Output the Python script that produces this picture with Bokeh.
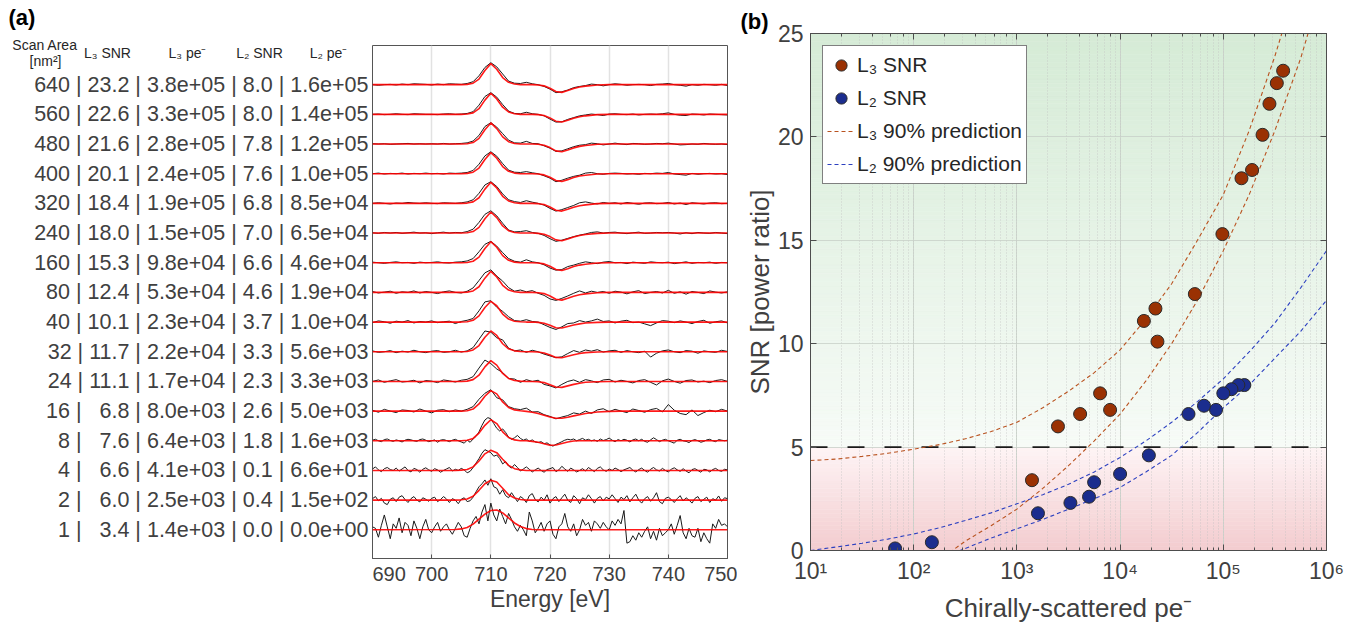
from bokeh.plotting import figure
from bokeh.layouts import row
from bokeh.models import (Range1d, LogAxis, LinearAxis, LogTicker, FixedTicker, Legend, LegendItem,
                          Span, CustomJSTickFormatter, ColumnDataSource)
from bokeh.core.properties import value
from bokeh.embed import file_html
from bokeh.resources import INLINE

FONT = "Liberation Sans"
TXT = "#404040"

# ---------------- table / scatter data ----------------
scan_area = [640, 560, 480, 400, 320, 240, 160, 80, 40, 32, 24, 16, 8, 4, 2, 1]
l3_snr = [23.2, 22.6, 21.6, 20.1, 18.4, 18.0, 15.3, 12.4, 10.1, 11.7, 11.1, 6.8, 7.6, 6.6, 6.0, 3.4]
l3_pe = [3.8e5, 3.3e5, 2.8e5, 2.4e5, 1.9e5, 1.5e5, 9.8e4, 5.3e4, 2.3e4, 2.2e4, 1.7e4, 8.0e3, 6.4e3, 4.1e3, 2.5e3, 1.4e3]
l2_snr = [8.0, 8.0, 7.8, 7.6, 6.8, 7.0, 6.6, 4.6, 3.7, 3.3, 2.3, 2.6, 1.8, 0.1, 0.4, 0.0]
l2_pe = [1.6e5, 1.4e5, 1.2e5, 1.0e5, 8.5e4, 6.5e4, 4.6e4, 1.9e4, 1.0e4, 5.6e3, 3.3e3, 5.0e3, 1.6e3, 6.6e1, 1.5e2, 0.0]

# 90% prediction bands (every quarter decade 10^1 .. 10^6)
pred_x = [1.0e1, 1.78e1, 3.16e1, 5.62e1, 1.0e2, 1.78e2, 3.16e2, 5.62e2, 1.0e3, 1.78e3, 3.16e3,
          5.62e3, 1.0e4, 1.78e4, 3.16e4, 5.62e4, 1.0e5, 1.78e5, 3.16e5, 5.62e5, 1.0e6]
l3_pred_hi = [4.35, 4.42, 4.55, 4.7, 4.9, 5.12, 5.4, 5.75, 6.2, 6.9, 7.7, 8.6, 9.7, 11.2, 12.9, 15.0, 17.2, 20.3, 23.9, 28.0, 32.5]
l3_pred_lo = [-4.0, -3.2, -2.5, -1.8, -1.1, -0.45, 0.45, 1.2, 2.0, 3.0, 4.1, 5.3, 6.6, 8.2, 10.0, 12.1, 14.5, 17.2, 20.3, 23.8, 28.0]
l2_pred_hi = [0.0, 0.17, 0.35, 0.55, 0.8, 1.1, 1.45, 1.82, 2.26, 2.7, 3.2, 3.8, 4.5, 5.3, 6.2, 7.2, 8.3, 9.6, 11.0, 12.7, 14.5]
l2_pred_lo = [-3.0, -2.3, -1.7, -1.2, -0.8, -0.4, 0.1, 0.6, 1.05, 1.5, 2.0, 2.5, 3.05, 3.8, 4.6, 5.7, 6.9, 8.0, 9.3, 10.6, 12.1]
snr_threshold = 5

# ---------------- spectra data (panel a) ----------------
energy_1ev = [690 + i for i in range(61)]
energy_half = [690 + 0.5 * i for i in range(121)]
fit_energy = [690, 704, 705, 706, 707, 708, 709, 710, 711, 712, 713, 714, 715, 716, 717, 718, 719, 720,
              721, 722, 723, 724, 725, 726, 728, 730, 732, 750]

fit_high = [0, 0, 0, 0.01, 0.05, 0.19, 0.48, 0.71, 0.52, 0.24, 0.08, 0.02, 0, 0, 0, -0.01, -0.04, -0.12,
            -0.23, -0.26, -0.20, -0.13, -0.08, -0.05, -0.01, 0, 0, 0]
fit_mid = [0, 0, 0, 0.01, 0.06, 0.21, 0.49, 0.70, 0.55, 0.27, 0.10, 0.03, 0.01, 0, 0, -0.01, -0.04, -0.11,
           -0.19, -0.20, -0.15, -0.10, -0.06, -0.03, -0.01, 0, 0, 0]
fit_16 = [0, 0, 0, 0.01, 0.07, 0.24, 0.50, 0.69, 0.58, 0.31, 0.12, 0.04, 0.01, -0.01, -0.04, -0.08, -0.14, -0.20,
          -0.24, -0.24, -0.21, -0.16, -0.12, -0.08, -0.03, -0.01, 0, 0]
fit_8 = [0, 0, 0, 0.02, 0.08, 0.26, 0.52, 0.71, 0.58, 0.30, 0.11, 0.03, 0, 0, -0.02, -0.05, -0.10, -0.15,
         -0.14, -0.09, -0.04, -0.01, 0, 0, 0, 0, 0, 0]
fit_4 = [0, 0, 0.01, 0.03, 0.12, 0.32, 0.56, 0.68, 0.60, 0.38, 0.17, 0.06, 0.02, 0, 0, 0, 0, 0,
         0, 0, 0, 0, 0, 0, 0, 0, 0, 0]
fit_2 = [0, 0, 0.01, 0.04, 0.13, 0.33, 0.55, 0.67, 0.61, 0.40, 0.18, 0.07, 0.02, 0, 0, 0, 0, 0,
         0, 0, 0, 0, 0, 0, 0, 0, 0, 0]
fit_1 = [0, 0.01, 0.03, 0.08, 0.19, 0.36, 0.53, 0.65, 0.67, 0.57, 0.40, 0.23, 0.11, 0.04, 0.01, 0, 0, 0,
         0, 0, 0, 0, 0, 0, 0, 0, 0, 0]

spec_640 = [0.00, -0.02, 0.00, 0.01, -0.01, 0.02, 0.00, 0.03, 0.02, 0.01,
            -0.01, 0.02, 0.00, 0.03, 0.02, 0.01, 0.04, 0.10, 0.30, 0.58,
            0.74, 0.60, 0.36, 0.12, 0.05, 0.04, 0.08, 0.03, 0.00, -0.06,
            -0.15, -0.27, -0.24, -0.18, -0.10, -0.06, -0.03, 0.02, 0.00, -0.04,
            0.00, 0.03, 0.01, -0.02, 0.00, 0.01, 0.00, -0.03, 0.01, 0.02,
            0.04, 0.00, -0.02, -0.05, 0.00, -0.02, 0.01, 0.00, -0.02, 0.01,
            -0.03]
spec_560 = [0.00, 0.01, -0.01, 0.00, 0.02, 0.00, -0.01, 0.02, 0.01, 0.00,
            0.00, -0.01, 0.01, 0.02, 0.00, 0.01, 0.03, 0.09, 0.31, 0.60,
            0.73, 0.58, 0.33, 0.11, 0.03, 0.02, 0.07, 0.02, 0.00, -0.05,
            -0.16, -0.26, -0.25, -0.17, -0.11, -0.05, -0.02, 0.01, -0.01, -0.04,
            0.01, 0.02, 0.00, -0.01, 0.01, -0.02, 0.00, 0.01, 0.00, 0.02,
            0.05, 0.00, -0.03, -0.04, 0.01, 0.00, -0.02, 0.01, 0.00, -0.01,
            -0.02]
spec_480 = [0.01, 0.00, 0.01, -0.01, 0.00, 0.01, 0.02, 0.00, 0.01, 0.00,
            0.01, 0.00, 0.02, 0.00, 0.01, 0.02, 0.04, 0.10, 0.29, 0.59,
            0.72, 0.57, 0.35, 0.13, 0.04, 0.03, 0.09, 0.02, 0.01, -0.06,
            -0.14, -0.25, -0.23, -0.16, -0.09, -0.04, -0.02, 0.03, 0.01, -0.03,
            0.00, 0.03, 0.00, -0.02, 0.02, 0.01, -0.01, 0.00, 0.02, 0.01,
            0.03, 0.00, -0.03, -0.02, 0.00, -0.01, 0.02, 0.00, -0.01, 0.00,
            -0.02]
spec_400 = [0.00, 0.02, -0.01, 0.01, 0.00, 0.02, -0.01, 0.01, 0.00, 0.02,
            0.00, 0.01, -0.01, 0.02, 0.01, 0.02, 0.04, 0.11, 0.32, 0.60,
            0.74, 0.59, 0.34, 0.12, 0.05, 0.04, 0.07, 0.03, 0.00, -0.07,
            -0.15, -0.27, -0.22, -0.15, -0.09, -0.05, 0.02, 0.04, 0.00, -0.02,
            0.01, 0.02, 0.01, -0.01, 0.00, -0.02, 0.01, 0.00, 0.02, 0.01,
            0.04, -0.01, -0.03, -0.05, 0.01, -0.02, 0.00, 0.01, -0.01, 0.00,
            -0.03]
spec_320 = [0.00, 0.02, 0.00, -0.02, 0.01, 0.00, 0.03, 0.01, 0.00, 0.02,
            0.00, -0.01, 0.02, 0.01, 0.00, 0.02, 0.05, 0.12, 0.34, 0.62,
            0.73, 0.57, 0.32, 0.12, 0.06, 0.03, 0.09, 0.04, 0.00, -0.06,
            -0.17, -0.26, -0.21, -0.14, -0.07, 0.02, 0.05, 0.01, -0.02, 0.03,
            0.00, 0.02, -0.02, 0.03, 0.00, -0.03, 0.01, 0.02, -0.01, 0.00,
            0.03, -0.02, 0.01, -0.04, 0.02, 0.00, -0.02, 0.01, 0.02, -0.01,
            0.00]
spec_240 = [0.01, -0.01, 0.02, 0.00, 0.02, -0.01, 0.01, 0.03, 0.00, 0.01,
            -0.02, 0.01, 0.03, 0.00, 0.02, 0.01, 0.05, 0.13, 0.36, 0.63,
            0.75, 0.58, 0.33, 0.10, 0.04, 0.05, 0.08, 0.02, -0.01, -0.08,
            -0.19, -0.28, -0.24, -0.18, -0.12, -0.07, -0.03, 0.02, 0.04, 0.00,
            0.02, 0.03, 0.00, -0.02, 0.01, 0.03, -0.01, 0.00, 0.02, 0.01,
            0.02, 0.00, -0.03, 0.01, -0.02, 0.02, 0.00, -0.01, 0.02, 0.00,
            -0.02]
spec_160 = [0.02, 0.00, -0.02, 0.01, 0.03, 0.00, 0.01, -0.02, 0.02, 0.00,
            0.01, 0.03, 0.00, -0.01, 0.02, 0.03, 0.06, 0.14, 0.37, 0.62,
            0.72, 0.56, 0.34, 0.14, 0.05, 0.02, 0.10, 0.03, 0.00, -0.07,
            -0.18, -0.25, -0.23, -0.13, -0.08, -0.02, 0.03, 0.00, -0.03, 0.02,
            0.04, 0.00, 0.01, -0.03, 0.02, 0.00, -0.02, 0.03, 0.01, 0.00,
            0.02, -0.03, 0.00, 0.03, -0.02, 0.01, 0.00, 0.02, -0.02, 0.01,
            0.00]
spec_80 = [0.03, -0.02, 0.01, 0.04, -0.03, 0.02, 0.00, 0.05, -0.02, 0.03,
           0.00, -0.04, 0.02, 0.05, 0.00, -0.02, 0.04, 0.15, 0.40, 0.66,
           0.76, 0.55, 0.38, 0.16, 0.04, 0.08, 0.02, 0.06, -0.03, -0.10,
           -0.22, -0.27, -0.20, -0.12, -0.03, 0.05, -0.02, 0.04, 0.00, 0.03,
           -0.03, 0.04, 0.01, -0.05, 0.02, 0.06, -0.04, 0.00, 0.03, -0.02,
           0.07, -0.03, 0.02, -0.06, 0.03, 0.00, -0.04, 0.05, 0.01, -0.02,
           0.02]
spec_40 = [-0.02, 0.04, 0.01, -0.04, 0.03, 0.00, 0.05, -0.03, 0.02, 0.00,
           0.04, -0.02, 0.01, 0.03, -0.05, 0.02, 0.06, 0.12, 0.38, 0.68,
           0.72, 0.50, 0.36, 0.18, 0.05, 0.03, 0.08, 0.02, 0.00, -0.09,
           -0.18, -0.25, -0.16, -0.05, -0.03, 0.05, 0.00, 0.04, 0.10, 0.02,
           0.04, -0.03, 0.03, 0.06, -0.02, 0.00, -0.06, -0.12, -0.03, 0.05,
           0.03, -0.02, 0.04, 0.00, -0.05, 0.02, 0.06, -0.04, 0.01, 0.04,
           -0.03]
spec_32 = [0.03, -0.02, 0.00, 0.04, -0.03, 0.02, -0.01, 0.05, 0.00, -0.03,
           0.02, 0.04, -0.02, 0.00, 0.05, -0.01, 0.03, 0.14, 0.42, 0.70,
           0.66, 0.47, 0.40, 0.12, 0.03, 0.06, -0.02, 0.05, 0.00, -0.08,
           -0.14, -0.20, -0.17, -0.06, 0.04, -0.02, 0.06, 0.02, 0.07, -0.01,
           0.03, 0.05, -0.02, 0.04, 0.00, -0.03, 0.02, -0.18, -0.05, 0.03,
           0.06, 0.00, -0.03, 0.04, 0.02, -0.05, 0.03, 0.00, -0.02, 0.05,
           0.01]
spec_24 = [0.00, 0.05, -0.03, 0.02, 0.06, -0.02, 0.00, 0.04, -0.05, 0.03,
           0.01, -0.04, 0.05, 0.02, -0.02, 0.04, 0.07, 0.16, 0.45, 0.72,
           0.60, 0.42, 0.30, 0.10, 0.08, -0.03, 0.06, 0.00, 0.04, -0.10,
           -0.15, -0.22, -0.10, 0.00, 0.05, -0.03, 0.06, 0.02, -0.04, 0.05,
           0.07, -0.02, 0.04, 0.00, -0.05, 0.03, 0.06, -0.03, -0.12, 0.02,
           0.08, 0.00, -0.06, 0.03, 0.05, -0.02, 0.01, -0.04, 0.03, 0.06,
           0.00]
spec_16 = [0.03, -0.04, 0.06, 0.00, -0.05, 0.04, 0.02, -0.03, 0.07, 0.00,
           -0.06, 0.03, 0.05, -0.02, 0.04, 0.00, 0.06, 0.15, 0.40, 0.60,
           0.72, 0.45, 0.38, 0.15, 0.08, 0.05, 0.10, -0.03, -0.02, -0.12,
           -0.18, -0.26, -0.20, -0.15, -0.06, -0.10, 0.00, -0.08, 0.04, 0.08,
           -0.02, 0.06, 0.00, -0.05, 0.07, 0.02, -0.04, 0.05, 0.09, -0.03,
           0.22, 0.03, -0.08, -0.12, 0.04, -0.15, -0.05, 0.03, -0.02, 0.06,
           0.00]
spec_8 = [0.02, 0.05, 0.00, -0.03, 0.04, 0.06, 0.01, -0.02, 0.03, 0.00,
          -0.04, 0.02, 0.05, 0.03, 0.00, -0.02, 0.04, 0.06, 0.02, -0.03,
          0.00, 0.03, -0.05, 0.02, 0.04, 0.01, -0.03, 0.02, 0.05, 0.00,
          -0.04, -0.08, 0.02, -0.05, 0.06, 0.15, 0.30, 0.52, 0.70, 0.78,
          0.74, 0.58, 0.42, 0.33, 0.40, 0.28, 0.12, 0.05, 0.10, 0.18,
          0.08, 0.02, 0.06, -0.02, 0.03, -0.04, -0.06, -0.03, -0.10, -0.07,
          -0.14, -0.18, -0.12, -0.08, -0.03, 0.02, 0.05, 0.03, 0.06, 0.00,
          0.04, 0.08, 0.02, 0.05, 0.00, 0.03, -0.02, 0.06, 0.01, 0.04,
          0.09, 0.02, -0.03, 0.04, 0.00, 0.05, 0.02, -0.04, 0.03, 0.06,
          0.00, 0.05, -0.02, -0.05, 0.03, 0.10, 0.04, -0.03, 0.02, 0.05,
          0.00, -0.04, -0.08, 0.02, 0.05, 0.00, -0.02, -0.06, 0.01, 0.04,
          0.00, -0.05, -0.02, 0.03, 0.05, 0.00, -0.03, 0.04, 0.02, 0.00,
          0.02]
spec_4 = [0.05, 0.12, 0.02, -0.04, 0.06, 0.10, 0.03, 0.00, 0.08, -0.02,
          0.05, 0.12, 0.00, -0.05, 0.07, 0.03, -0.06, 0.04, 0.09, 0.02,
          -0.03, 0.06, 0.02, -0.06, 0.00, 0.05, 0.10, -0.02, 0.04, 0.00,
          0.07, 0.02, -0.08, -0.03, 0.10, 0.25, 0.40, 0.58, 0.70, 0.65,
          0.60, 0.48, 0.52, 0.40, 0.22, 0.30, 0.15, 0.08, 0.20, 0.10,
          -0.02, 0.05, 0.12, 0.04, -0.05, 0.02, 0.08, 0.00, -0.06, 0.03,
          0.06, 0.10, -0.04, 0.02, 0.14, 0.05, -0.03, 0.08, 0.02, -0.05,
          0.00, 0.06, -0.02, 0.10, 0.03, -0.04, 0.07, 0.12, 0.02, -0.03,
          0.05, 0.00, 0.08, 0.03, -0.04, 0.02, 0.06, 0.10, 0.01, -0.05,
          0.03, 0.08, 0.00, -0.06, 0.04, 0.10, 0.02, -0.02, 0.07, 0.00,
          -0.05, 0.04, 0.09, 0.02, -0.03, 0.06, -0.02, -0.08, 0.03, 0.06,
          0.00, -0.06, 0.04, 0.02, -0.05, 0.03, 0.07, 0.00, -0.03, 0.04,
          0.02]
spec_2 = [0.05, 0.12, -0.02, 0.06, -0.10, -0.15, 0.03, 0.08, -0.05, 0.10,
          0.15, 0.02, -0.08, 0.05, 0.12, 0.00, -0.06, 0.08, 0.03, -0.04,
          0.06, 0.10, -0.05, 0.02, 0.12, 0.04, -0.08, 0.05, 0.00, -0.12,
          0.03, 0.08, -0.05, -0.02, 0.10, 0.28, 0.45, 0.55, 0.68, 0.50,
          0.72, 0.45, 0.40, 0.20, 0.35, 0.15, 0.08, 0.25, 0.10, -0.05,
          0.12, 0.05, -0.08, 0.15, 0.22, 0.02, -0.06, 0.10, 0.00, 0.18,
          -0.10, 0.05, 0.12, -0.05, 0.08, 0.20, 0.00, -0.08, 0.15, 0.05,
          -0.12, 0.08, 0.02, 0.18, 0.05, -0.10, 0.06, 0.12, -0.03, 0.10,
          0.04, 0.18, 0.05, -0.08, 0.10, 0.02, 0.15, -0.06, 0.08, 0.20,
          0.00, -0.10, 0.05, 0.12, -0.04, 0.08, 0.25, -0.05, -0.12, 0.06,
          0.10, 0.02, -0.08, 0.05, 0.15, -0.03, 0.08, 0.00, -0.10, 0.06,
          0.12, -0.05, 0.03, 0.10, -0.08, 0.05, 0.00, 0.14, -0.04, 0.08,
          0.05]
spec_1 = [0.10, 0.05, -0.25, 0.15, 0.50, 0.10, -0.30, 0.20, 0.05, 0.40,
          -0.10, 0.25, 0.15, -0.20, 0.30, 0.05, -0.30, 0.10, 0.35, 0.00,
          -0.10, 0.10, 0.25, -0.05, 0.10, 0.20, 0.00, -0.15, 0.05, 0.25,
          0.10, -0.20, -0.25, 0.05, 0.30, 0.45, 0.20, 0.60, 0.85, 0.30,
          0.90, 0.50, 0.30, 0.70, 0.45, 0.20, 0.55, 0.35, 0.10, -0.05,
          0.15, 0.00, -0.20, 0.60, 0.30, -0.10, 0.05, 0.25, -0.05, 0.20,
          0.30, -0.15, -0.30, 0.10, 0.20, 0.55, 0.10, -0.05, 0.20, -0.20,
          0.00, 0.35, 0.15, 0.25, -0.05, 0.30, 0.20, 0.05, 0.25, 0.10,
          0.00, 0.30, 0.15, 0.35, 0.20, 0.65, -0.45, -0.40, -0.20, -0.35,
          -0.10, -0.25, -0.05, 0.10, -0.30, -0.05, -0.35, 0.05, -0.20, -0.10,
          0.00, 0.20, -0.15, 0.15, 0.48, -0.10, -0.30, 0.05, -0.20, -0.25,
          0.05, -0.40, -0.10, -0.30, -0.45, 0.20, 0.05, 0.35, 0.15, 0.20,
          0.10]

spectra = [spec_640, spec_560, spec_480, spec_400, spec_320, spec_240, spec_160, spec_80,
           spec_40, spec_32, spec_24, spec_16, spec_8, spec_4, spec_2, spec_1]
spectra_energy = [energy_1ev] * 12 + [energy_half] * 4
fits = [fit_high] * 8 + [fit_mid] * 3 + [fit_16, fit_8, fit_4, fit_2, fit_1]

# ---------------- layout constants (page has no margin) ----------------
H = 630
A_TOP, A_BOT = 45, 558          # panel (a) frame, page px
B_TOP, B_BOT = 33, 550          # panel (b) frame, page px
Y0, Y1 = -0.967, 16.32          # spectra y-range (one unit per trace)
PX_PER_UNIT = (A_BOT - A_TOP) / (Y1 - Y0)
NBSP = "\u00a0"


def no_align(p):
    try:
        p.frame_align = False
    except Exception:
        pass


# ---------------- table figure (left of panel a) ----------------
pt = figure(width=372, height=H, x_range=Range1d(0, 372),
            y_range=Range1d(Y0 - (H - A_BOT) / PX_PER_UNIT, Y1 + A_TOP / PX_PER_UNIT),
            x_axis_type=None, y_axis_type=None, toolbar_location=None, output_backend="svg",
            min_border=0, outline_line_color=None, title=None)
no_align(pt)
pt.grid.visible = False

n = len(scan_area)
offsets = [n - 1 - i for i in range(n)]
row_text = []
for a, s3, e3, s2, e2 in zip(scan_area, l3_snr, l3_pe, l2_snr, l2_pe):
    s3txt = f"{s3:.1f}" if s3 >= 10 else NBSP * 2 + f"{s3:.1f}"
    row_text.append(f"{a} | {s3txt} | {e3:.1e} | {s2:.1f} | {e2:.1e}")
pt.text(x=[368] * n, y=offsets, text=row_text, text_align="right", text_baseline="middle",
        text_font=value(FONT), text_font_size="21.5px", text_color=TXT)

pt.text(x=[44.5], y=[Y1 + 1 / PX_PER_UNIT], text=["Scan Area"], text_align="center", text_baseline="middle",
        text_font=value(FONT), text_font_size="14px", text_color="#262626")
pt.text(x=[45], y=[Y1 - 15 / PX_PER_UNIT], text=["[nm²]"], text_align="center", text_baseline="middle",
        text_font=value(FONT), text_font_size="14px", text_color="#262626")
pt.text(x=[107, 187, 259, 328], y=[Y1 - 7 / PX_PER_UNIT] * 4,
        text=["L₃ SNR", "L₃ pe⁻", "L₂ SNR", "L₂ pe⁻"], text_align="center", text_baseline="middle",
        text_font=value(FONT), text_font_size="14px", text_color="#262626")
pt.text(x=[8], y=[Y1 + 28 / PX_PER_UNIT], text=["(a)"], text_align="left", text_baseline="middle",
        text_font=value(FONT), text_font_size="22px", text_font_style="bold", text_color="black")

# ---------------- spectra figure (panel a) ----------------
pa = figure(width=365, height=H, x_range=Range1d(690, 750), y_range=Range1d(Y0, Y1),
            y_axis_type=None, toolbar_location=None, output_backend="svg", title=None,
            min_border_left=0, min_border_right=10, min_border_top=A_TOP, min_border_bottom=H - A_BOT,
            outline_line_color="#555555", outline_line_width=1)
no_align(pa)
pa.xaxis.ticker = FixedTicker(ticks=[690, 700, 710, 720, 730, 740, 750])
pa.xgrid.ticker = FixedTicker(ticks=[700, 710, 720, 730, 740])
pa.xgrid.grid_line_color = "#e2e2e2"
pa.xgrid.grid_line_width = 1.5
pa.xaxis.axis_label = "Energy [eV]"
pa.xaxis.axis_label_text_font = FONT
pa.xaxis.axis_label_text_font_size = "23px"
pa.xaxis.axis_label_text_font_style = "normal"
pa.xaxis.axis_label_text_color = TXT
pa.xaxis.axis_label_standoff = 2
pa.xaxis.major_label_text_font = FONT
pa.xaxis.major_label_text_font_size = "20px"
pa.xaxis.major_label_text_color = TXT
pa.xaxis.major_label_standoff = 8
pa.xaxis.major_tick_out = 0
pa.xaxis.major_tick_in = 4
pa.xaxis.minor_tick_line_color = None
pa.xaxis.axis_line_color = "#555555"
pa.xaxis.major_tick_line_color = "#555555"

for off, e, spec, fit in zip(offsets, spectra_energy, spectra, fits):
    pa.line(e, [v + off for v in spec], line_color="#1a1a1a", line_width=1.0)
    pa.line(fit_energy, [v + off for v in fit], line_color="#ff0000", line_width=1.6, line_alpha=0.9)

# ---------------- scatter figure (panel b) ----------------
pb = figure(width=609, height=H, x_axis_type="log", x_range=Range1d(10, 1e6), y_range=Range1d(0, 25),
            toolbar_location=None, output_backend="svg", title="(b)",
            min_border_left=73, min_border_right=20, min_border_top=B_TOP, min_border_bottom=H - B_BOT,
            outline_line_color="#4d4d4d", outline_line_width=1)
no_align(pb)
pb.title.align = "left"
pb.title.offset = -70
pb.title.standoff = 0
pb.title.text_font = FONT
pb.title.text_font_size = "22px"
pb.title.text_font_style = "bold"
pb.title.text_color = "black"

# background gradient: red below threshold, green above
bands_b, bands_t, bands_c = [], [], []
steps = 125
for i in range(steps):
    b = 25 * i / steps
    t = 25 * (i + 1) / steps
    m = 0.5 * (b + t)
    if m < snr_threshold:
        f = m / snr_threshold
        c0, c1 = (243, 204, 207), (254, 244, 245)
    else:
        f = (m - snr_threshold) / (25 - snr_threshold)
        c0, c1 = (247, 251, 247), (213, 235, 214)
    col = tuple(int(round(c0[k] + (c1[k] - c0[k]) * f)) for k in range(3))
    bands_b.append(b)
    bands_t.append(t)
    bands_c.append("#%02x%02x%02x" % col)
bg = ColumnDataSource(dict(b=bands_b, t=bands_t, c=bands_c))
pb.quad(left=10, right=1e6, bottom="b", top="t", fill_color="c", line_color="c", line_width=0.6,
        source=bg, level="image")

pb.xgrid.grid_line_color = "#c8cfc8"
pb.xgrid.grid_line_alpha = 0.8
pb.xgrid.minor_grid_line_color = "#c0c0c0"
pb.xgrid.minor_grid_line_alpha = 0.7
pb.xgrid.minor_grid_line_dash = "1 2"
pb.ygrid.grid_line_color = "#c8cfc8"
pb.ygrid.grid_line_alpha = 0.8
pb.yaxis.ticker = FixedTicker(ticks=[0, 5, 10, 15, 20, 25])
pb.ygrid.ticker = FixedTicker(ticks=[5, 10, 15, 20])

pb.xaxis.formatter = CustomJSTickFormatter(code="""
const sup = {'0':'⁰','1':'¹','2':'²','3':'³','4':'⁴','5':'⁵','6':'⁶','7':'⁷','8':'⁸','9':'⁹','-':'⁻'};
const e = Math.round(Math.log10(tick));
return '10' + String(e).split('').map(c => sup[c]).join('');
""")

for ax in (pb.xaxis[0], pb.yaxis[0]):
    ax.major_label_text_font = FONT
    ax.major_label_text_font_size = "23px"
    ax.major_label_text_color = TXT
    ax.axis_label_text_font = FONT
    ax.axis_label_text_font_size = "26px"
    ax.axis_label_text_font_style = "normal"
    ax.axis_label_text_color = TXT
    ax.major_tick_out = 0
    ax.major_tick_in = 6
    ax.minor_tick_out = 0
    ax.minor_tick_in = 3
    ax.axis_line_color = "#4d4d4d"
    ax.major_tick_line_color = "#4d4d4d"
    ax.minor_tick_line_color = "#4d4d4d"
pb.yaxis.minor_tick_line_color = None
pb.xaxis.axis_label = "Chirally-scattered pe⁻"
pb.yaxis.axis_label = "SNR [power ratio]"
pb.xaxis.major_label_standoff = 7
pb.xaxis.axis_label_standoff = 6
pb.yaxis.major_label_standoff = 7
pb.yaxis.axis_label_standoff = 0

top_ax = LogAxis(ticker=LogTicker(), formatter=CustomJSTickFormatter(code="return '';"),
                 major_label_text_font_size="1px", major_label_standoff=0,
                 major_tick_out=0, major_tick_in=6, minor_tick_out=0, minor_tick_in=3,
                 axis_line_color="#4d4d4d", major_tick_line_color="#4d4d4d", minor_tick_line_color="#4d4d4d")
pb.add_layout(top_ax, "above")
right_ax = LinearAxis(ticker=FixedTicker(ticks=[0, 5, 10, 15, 20, 25]), formatter=CustomJSTickFormatter(code="return '';"),
                      major_label_text_font_size="1px",
                      major_label_standoff=0, major_tick_out=0, major_tick_in=6, minor_tick_line_color=None,
                      axis_line_color="#4d4d4d", major_tick_line_color="#4d4d4d")
pb.add_layout(right_ax, "right")

pb.add_layout(Span(location=snr_threshold, dimension="width", line_color="#1a1a1a", line_width=1.6,
                   line_dash="17 20", level="underlay"))

C3, C2 = "#9a3103", "#1b2d8e"
LC3, LC2 = "#b9521f", "#2c40c0"
r_l3hi = pb.line(pred_x, l3_pred_hi, line_color=LC3, line_width=1.1, line_dash="4 3")
pb.line(pred_x, l3_pred_lo, line_color=LC3, line_width=1.1, line_dash="4 3")
r_l2hi = pb.line(pred_x, l2_pred_hi, line_color=LC2, line_width=1.1, line_dash="4 3")
pb.line(pred_x, l2_pred_lo, line_color=LC2, line_width=1.1, line_dash="4 3")

l2x = [x for x in l2_pe if x > 0]
l2y = [y for x, y in zip(l2_pe, l2_snr) if x > 0]
r_l3 = pb.scatter(l3_pe, l3_snr, size=13, fill_color=C3, line_color="#2a2a2a", line_width=1)
r_l2 = pb.scatter(l2x, l2y, size=13, fill_color=C2, line_color="#2a2a2a", line_width=1)

legend = Legend(items=[LegendItem(label="L₃ SNR", renderers=[r_l3]),
                       LegendItem(label="L₂ SNR", renderers=[r_l2]),
                       LegendItem(label="L₃ 90% prediction", renderers=[r_l3hi]),
                       LegendItem(label="L₂ 90% prediction", renderers=[r_l2hi])],
                location="top_left", margin=12, padding=4, spacing=3,
                glyph_width=28, glyph_height=30, label_height=30, label_width=164, label_standoff=2,
                label_text_font=FONT, label_text_font_size="21px", label_text_color="#262626",
                border_line_color="black", border_line_width=1, background_fill_color="white",
                background_fill_alpha=1.0)
pb.add_layout(legend)

layout = row(pt, pa, pb)
open("out.html", "w").write(file_html(layout, INLINE))
